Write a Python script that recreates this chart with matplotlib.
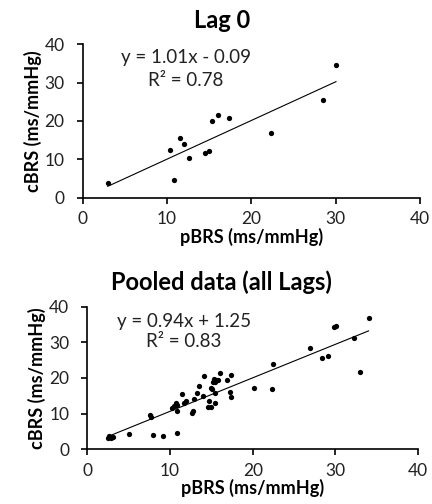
import numpy as np
import matplotlib.pyplot as plt

plt.rcParams['font.family'] = ['Lato', 'DejaVu Sans']

# Lag 0 data
lag0_x = [3.0, 10.9, 10.4, 11.5, 12.0, 12.6, 14.5, 15.0, 15.4, 16.05, 17.4, 22.4, 28.5, 30.05]
lag0_y = [3.75, 4.5, 12.3, 15.5, 13.9, 10.2, 11.7, 12.2, 20.0, 21.5, 20.8, 16.8, 25.5, 34.6]
lag0_fit = (1.01, -0.09)
lag0_eq = "y = 1.01x - 0.09\nR² = 0.78"

# Pooled data (all lags)
pool_x = [2.5, 2.6, 3.1, 2.9, 5.1, 7.6, 7.7, 8.0, 9.1, 10.8,
          10.3, 10.5, 10.7, 10.9, 10.8, 11.5, 11.7, 11.9, 12.7, 12.8,
          12.9, 13.25, 13.5, 13.95, 14.15, 14.6, 14.7, 15.0, 15.1, 15.0,
          15.2, 15.3, 15.5, 15.6, 15.8, 15.4, 15.45, 16.1, 16.9, 17.3,
          17.4, 17.4, 20.2, 22.3, 22.4, 26.95, 28.4, 29.1, 29.8, 30.1,
          32.3, 33.0, 34.0]
pool_y = [3.1, 3.7, 3.4, 3.3, 4.4, 9.7, 9.2, 4.0, 3.8, 4.6,
          11.5, 12.1, 12.9, 12.4, 10.8, 15.5, 13.1, 13.6, 10.3, 10.8,
          14.0, 15.7, 17.8, 15.0, 20.5, 11.8, 13.5, 11.95, 16.8, 17.2,
          19.0, 19.8, 18.9, 19.5, 19.3, 15.7, 13.1, 21.5, 19.3, 16.1,
          14.6, 20.8, 17.3, 16.8, 23.9, 28.3, 25.6, 26.3, 34.4, 34.5,
          31.2, 21.8, 36.7]
pool_fit = (0.94, 1.25)
pool_eq = "y = 0.94x + 1.25\nR² = 0.83"

ticks = [0, 10, 20, 30, 40]


def panel(ax, x, y, fit, eq, title, title_x, eq_pos, spacing):
    ax.plot(x, y, 'o', color='black', markersize=3.8, markeredgewidth=0)
    xs = np.array([min(x), max(x)])
    ax.plot(xs, fit[0] * xs + fit[1], color='black', linewidth=0.8)
    ax.set_xlim(0, 40)
    ax.set_ylim(0, 40)
    ax.set_xticks(ticks)
    ax.set_yticks(ticks)
    ax.spines['top'].set_visible(False)
    ax.spines['right'].set_visible(False)
    ax.spines['left'].set_linewidth(1.2)
    ax.spines['bottom'].set_linewidth(1.2)
    ax.tick_params(direction='out', length=4, width=1.2, labelsize=12.5,
                   labelcolor='#222222')
    ax.tick_params(axis='x', pad=6)
    ax.tick_params(axis='y', pad=9)
    ax.set_xlabel('pBRS (ms/mmHg)', fontsize=13, fontweight='bold', labelpad=0)
    ax.set_ylabel('cBRS (ms/mmHg)', fontsize=13, fontweight='bold', labelpad=2)
    ax.set_title(title, fontsize=17, fontweight='bold', pad=12, x=title_x)
    ax.text(eq_pos[0], eq_pos[1], eq, ha='center', va='center', fontsize=13.5,
            linespacing=spacing, color='#222222')


fig = plt.figure(figsize=(4.32, 5.04), dpi=100)
ax1 = fig.add_axes([0.191, 0.608, 0.781, 0.304])
ax2 = fig.add_axes([0.202, 0.1085, 0.766, 0.283])

panel(ax1, lag0_x, lag0_y, lag0_fit, lag0_eq, 'Lag 0', 0.413, (12.25, 33.6), 1.45)
panel(ax2, pool_x, pool_y, pool_fit, pool_eq, 'Pooled data (all Lags)', 0.404, (11.7, 33.0), 1.2)

fig.savefig('out.png', dpi=100)
